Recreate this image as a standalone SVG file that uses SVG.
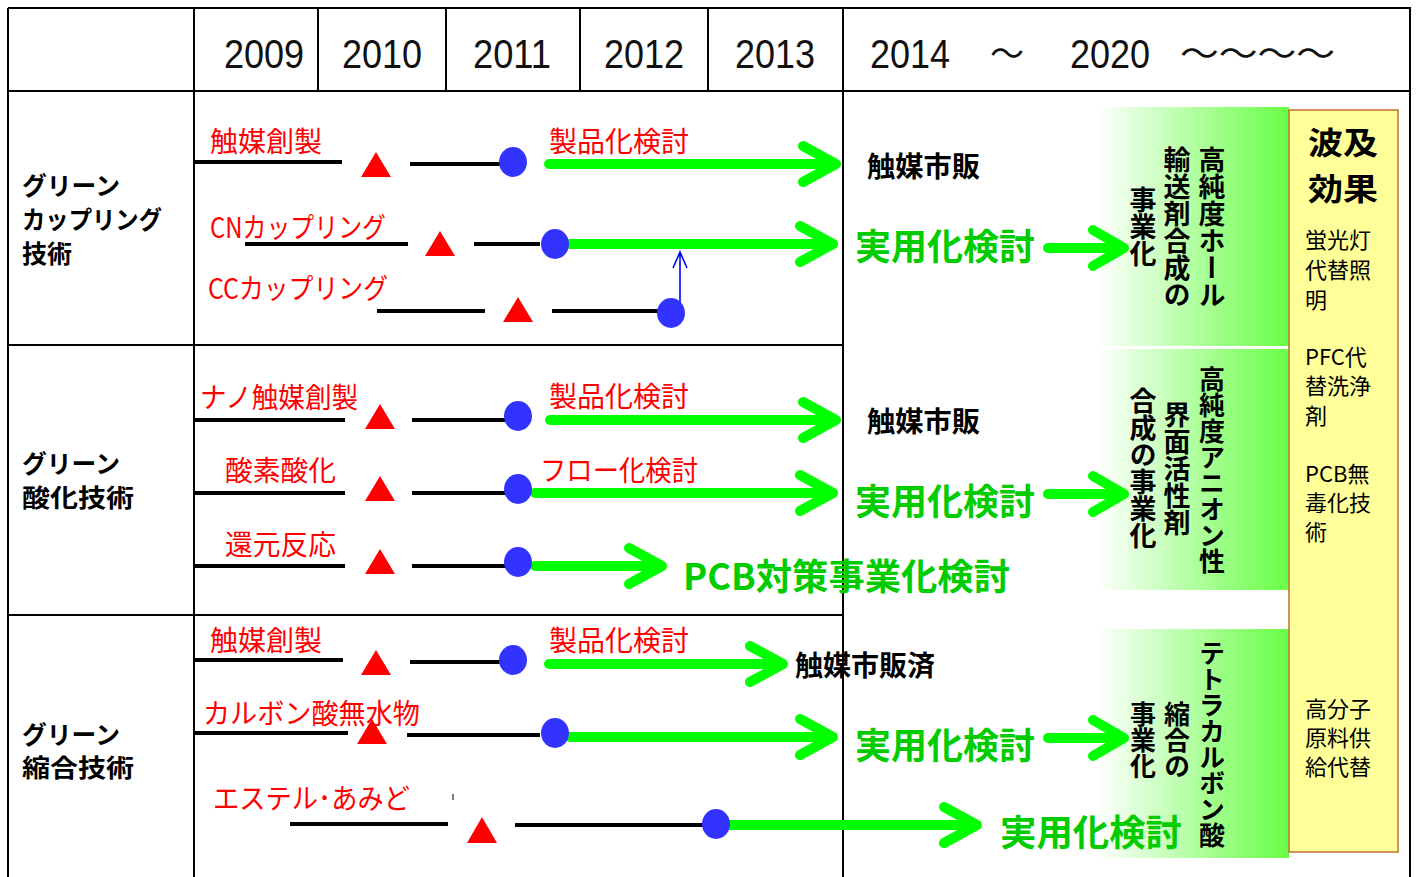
<svg xmlns="http://www.w3.org/2000/svg" width="1416" height="877" viewBox="0 0 1416 877">
<style>
.grid{stroke:#000;stroke-width:2;fill:none}
.yr{font-family:"Liberation Sans",Arial,sans-serif;font-size:40px;fill:#111}
.tl{font-family:"Noto Sans CJK JP",sans-serif;font-size:34px;fill:#111}
.row{font-family:"Noto Sans CJK JP",sans-serif;font-size:25px;font-weight:bold;fill:#000}
.red{font-family:"Noto Sans CJK JP",sans-serif;font-size:28px;fill:#ff0000}
.blk{font-family:"Noto Sans CJK JP",sans-serif;font-size:28px;font-weight:bold;fill:#000}
.grn{font-family:"Noto Sans CJK JP",sans-serif;font-size:36px;font-weight:bold;fill:#00cc00}
.vt{font-family:"Noto Sans CJK JP",sans-serif;font-size:26px;font-weight:bold;fill:#000;writing-mode:vertical-rl}
.vt27{font-size:27px}
.yb{font-family:"Noto Sans CJK JP",sans-serif;font-size:22px;fill:#000}
.ybh{font-family:"Noto Sans CJK JP",sans-serif;font-size:31px;font-weight:bold;fill:#000}
.bl{stroke:#000;stroke-width:4;fill:none}
.ga{stroke:#00ff00;stroke-width:10;fill:none;stroke-linecap:round;stroke-linejoin:round}
.tri{fill:#ff0000}
.dot{fill:#3333ff}
</style>
<defs>
<linearGradient id="gg" x1="0" y1="0" x2="1" y2="0">
<stop offset="0" stop-color="#ffffff"/>
<stop offset="0.1" stop-color="#ffffff"/>
<stop offset="1" stop-color="#66ff44"/>
</linearGradient>
</defs>
<rect width="1416" height="877" fill="#fff"/>

<g id="grid">
<path class="grid" d="M8 8 H1410 V877 M8 8 V877 M8 91 H1410 M194 8 V877 M318 8 V91 M446 8 V91 M580 8 V91 M708 8 V91 M843 8 V877 M8 345 H843 M8 615 H843"/>
</g>

<g id="header">
<text class="yr" x="224" y="68" textLength="80" lengthAdjust="spacingAndGlyphs">2009</text>
<text class="yr" x="342" y="68" textLength="80" lengthAdjust="spacingAndGlyphs">2010</text>
<text class="yr" x="473" y="68" textLength="78" lengthAdjust="spacingAndGlyphs">2011</text>
<text class="yr" x="604" y="68" textLength="80" lengthAdjust="spacingAndGlyphs">2012</text>
<text class="yr" x="735" y="68" textLength="80" lengthAdjust="spacingAndGlyphs">2013</text>
<text class="yr" x="870" y="68" textLength="80" lengthAdjust="spacingAndGlyphs">2014</text>
<text class="tl" x="990" y="66">～</text>
<text class="yr" x="1070" y="68" textLength="80" lengthAdjust="spacingAndGlyphs">2020</text>
<text class="tl" x="1180" y="66" textLength="155" lengthAdjust="spacingAndGlyphs">～～～～</text>
</g>

<g id="rowlabels">
<text class="row" x="22" y="195" textLength="98" lengthAdjust="spacingAndGlyphs">グリーン</text>
<text class="row" x="22" y="229" textLength="140" lengthAdjust="spacingAndGlyphs">カップリング</text>
<text class="row" x="22" y="263">技術</text>
<text class="row" x="22" y="473" textLength="98" lengthAdjust="spacingAndGlyphs">グリーン</text>
<text class="row" x="22" y="507" textLength="112" lengthAdjust="spacingAndGlyphs">酸化技術</text>
<text class="row" x="22" y="744" textLength="98" lengthAdjust="spacingAndGlyphs">グリーン</text>
<text class="row" x="22" y="777" textLength="112" lengthAdjust="spacingAndGlyphs">縮合技術</text>
</g>

<g id="result-boxes">
<rect x="1075" y="107" width="214" height="239" fill="url(#gg)"/>
<rect x="1075" y="349" width="214" height="241" fill="url(#gg)"/>
<rect x="1075" y="629" width="214" height="229" fill="url(#gg)"/>
</g>

<g id="effects">
<rect x="1289" y="110" width="109" height="742" fill="#ffff99" stroke="#c07030" stroke-width="1.5"/>
<text class="ybh" x="1308" y="154" textLength="70" lengthAdjust="spacingAndGlyphs">波及</text>
<text class="ybh" x="1308" y="200" textLength="70" lengthAdjust="spacingAndGlyphs">効果</text>
<text class="yb" x="1305" y="248">蛍光灯</text>
<text class="yb" x="1305" y="278">代替照</text>
<text class="yb" x="1305" y="308">明</text>
<text class="yb" x="1305" y="365">PFC代</text>
<text class="yb" x="1305" y="394">替洗浄</text>
<text class="yb" x="1305" y="424">剤</text>
<text class="yb" x="1305" y="482">PCB無</text>
<text class="yb" x="1305" y="511">毒化技</text>
<text class="yb" x="1305" y="540">術</text>
<text class="yb" x="1305" y="717">高分子</text>
<text class="yb" x="1305" y="746">原料供</text>
<text class="yb" x="1305" y="775">給代替</text>
</g>

<g id="outcome-hole">
<text class="vt vt27" x="1212" y="146">高純度ホール</text>
<text class="vt vt27" x="1177" y="146">輸送剤合成の</text>
<text class="vt vt27" x="1143" y="186">事業化</text>
</g>
<g id="outcome-anion">
<text class="vt" x="1212" y="366">高純度アニオン性</text>
<text class="vt vt27" x="1177" y="401">界面活性剤</text>
<text class="vt vt27" x="1143" y="387">合成の事業化</text>
</g>
<g id="outcome-tetra">
<text class="vt" x="1212" y="640">テトラカルボン酸</text>
<text class="vt" x="1177" y="701">縮合の</text>
<text class="vt" x="1143" y="701">事業化</text>
</g>

<g id="connectors">
<path class="bl" d="M194 162 H342 M410 164 H500"/>
<path class="ga" d="M549 164 H836 M803 146 L836 164 L803 182"/>
<path class="bl" d="M245 244 H408 M474 244 H540"/>
<path class="ga" d="M570 244 H833 M800 226 L833 244 L800 262"/>
<path class="ga" d="M1048 248 H1124 M1093 230 L1124 248 L1093 266"/>
<path class="bl" d="M377 311 H485 M552 311 H660"/>
<path d="M680 312 V252 M673 268 L680 252 L687 268" stroke="#0000ff" stroke-width="1.6" fill="none"/>
<path class="bl" d="M194 420 H345 M412 420 H505"/>
<path class="ga" d="M550 420 H836 M803 402 L836 420 L803 438"/>
<path class="bl" d="M194 493 H345 M412 493 H505"/>
<path class="ga" d="M535 493 H833 M800 475 L833 493 L800 511"/>
<path class="ga" d="M1048 494 H1124 M1093 476 L1124 494 L1093 512"/>
<path class="bl" d="M194 566 H345 M412 566 H505"/>
<path class="ga" d="M535 566 H662 M629 548 L662 566 L629 584"/>
<path class="bl" d="M194 660 H343 M410 662 H500"/>
<path class="ga" d="M549 664 H783 M750 646 L783 664 L750 682"/>
<path class="bl" d="M194 733 H348 M407 735 H540"/>
<path class="ga" d="M570 737 H833 M800 719 L833 737 L800 755"/>
<path class="ga" d="M1048 738 H1124 M1093 720 L1124 738 L1093 756"/>
<path class="bl" d="M290 824 H448 M515 825 H705"/>
<path class="ga" d="M718 825 H977 M944 807 L977 825 L944 843"/>
<path d="M453 794 V800" stroke="#000" stroke-width="1"/>
</g>

<g id="r1-catalyst">
<text class="red" x="210" y="152" textLength="112" lengthAdjust="spacingAndGlyphs">触媒創製</text>
<polygon class="tri" points="376,152 391,177 361,177"/>
<ellipse class="dot" cx="513" cy="162" rx="14" ry="15"/>
<text class="red" x="549" y="152" textLength="140" lengthAdjust="spacingAndGlyphs">製品化検討</text>
<text class="blk" x="867" y="177" textLength="113" lengthAdjust="spacingAndGlyphs">触媒市販</text>
</g>
<g id="r1-cn">
<text class="red" x="210" y="238" textLength="176" lengthAdjust="spacingAndGlyphs">CNカップリング</text>
<polygon class="tri" points="440,231 455,256 425,256"/>
<ellipse class="dot" cx="555" cy="244" rx="14" ry="15"/>
<text class="grn" x="855" y="260" textLength="180" lengthAdjust="spacingAndGlyphs">実用化検討</text>
</g>
<g id="r1-cc">
<text class="red" x="208" y="299" textLength="180" lengthAdjust="spacingAndGlyphs">CCカップリング</text>
<polygon class="tri" points="518,297 533,322 503,322"/>
<ellipse class="dot" cx="671" cy="313" rx="14" ry="15"/>
</g>

<g id="r2-nano">
<text class="red" x="200" y="408" textLength="158" lengthAdjust="spacingAndGlyphs">ナノ触媒創製</text>
<polygon class="tri" points="380,404 395,429 365,429"/>
<ellipse class="dot" cx="518" cy="416" rx="14" ry="15"/>
<text class="red" x="549" y="407" textLength="140" lengthAdjust="spacingAndGlyphs">製品化検討</text>
<text class="blk" x="867" y="432" textLength="113" lengthAdjust="spacingAndGlyphs">触媒市販</text>
</g>
<g id="r2-oxygen">
<text class="red" x="225" y="481" textLength="111" lengthAdjust="spacingAndGlyphs">酸素酸化</text>
<polygon class="tri" points="380,476 395,501 365,501"/>
<ellipse class="dot" cx="518" cy="489" rx="14" ry="15"/>
<text class="red" x="540" y="481" textLength="158" lengthAdjust="spacingAndGlyphs">フロー化検討</text>
<text class="grn" x="855" y="515" textLength="180" lengthAdjust="spacingAndGlyphs">実用化検討</text>
</g>
<g id="r2-reduction">
<text class="red" x="225" y="555" textLength="111" lengthAdjust="spacingAndGlyphs">還元反応</text>
<polygon class="tri" points="380,549 395,574 365,574"/>
<ellipse class="dot" cx="518" cy="562" rx="14" ry="15"/>
<text class="grn" x="683" y="590" textLength="327" lengthAdjust="spacingAndGlyphs">PCB対策事業化検討</text>
</g>

<g id="r3-catalyst">
<text class="red" x="210" y="651" textLength="112" lengthAdjust="spacingAndGlyphs">触媒創製</text>
<polygon class="tri" points="376,650 391,675 361,675"/>
<ellipse class="dot" cx="513" cy="660" rx="14" ry="15"/>
<text class="red" x="549" y="651" textLength="140" lengthAdjust="spacingAndGlyphs">製品化検討</text>
<text class="blk" x="795" y="676" textLength="140" lengthAdjust="spacingAndGlyphs">触媒市販済</text>
</g>
<g id="r3-anhydride">
<text class="red" x="203" y="724" textLength="217" lengthAdjust="spacingAndGlyphs">カルボン酸無水物</text>
<polygon class="tri" points="372,719 387,744 357,744"/>
<ellipse class="dot" cx="555" cy="733" rx="14" ry="15"/>
<text class="grn" x="855" y="759" textLength="180" lengthAdjust="spacingAndGlyphs">実用化検討</text>
</g>
<g id="r3-ester">
<text class="red" x="213" y="809" textLength="197" lengthAdjust="spacingAndGlyphs">エステル･あみど</text>
<polygon class="tri" points="482,817 497,843 467,843"/>
<ellipse class="dot" cx="716" cy="824" rx="14" ry="15"/>
<text class="grn" x="1000" y="846" textLength="182" lengthAdjust="spacingAndGlyphs">実用化検討</text>
</g>
</svg>
